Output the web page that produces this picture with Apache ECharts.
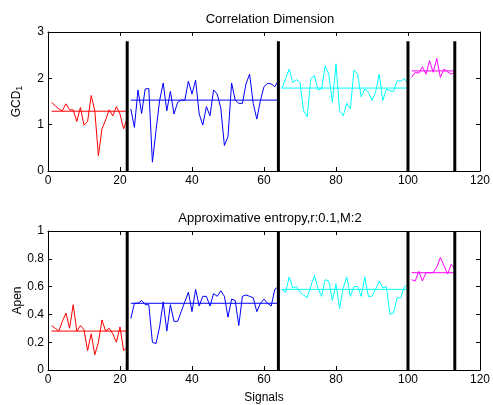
<!DOCTYPE html>
<html>
<head>
<meta charset="utf-8">
<script src="https://cdn.jsdelivr.net/npm/echarts@6/dist/echarts.min.js"></script>
<style>
  html, body { margin: 0; padding: 0; background: #fff; }
  #chart { width: 493px; height: 405px; }
</style>
</head>
<body>
<div id="chart"></div>
<script>
// segment boundaries (signal index) and colours
var segStart = [1, 23, 65, 101];
var segColors = ['#ff0000', '#0000ff', '#00ffff', '#ff00ff'];
var dividers = [22, 64, 100, 113];

// Correlation dimension (GCD_1), one array per segment
var gcdRed = [1.48, 1.41, 1.34, 1.30, 1.45, 1.32, 1.32, 1.07, 1.37, 0.99, 1.07,
    1.63, 1.30, 0.33, 0.91, 1.10, 1.32, 1.19, 1.39, 1.23, 0.91, 1.14];
var gcdBlue = [1.34, 0.94, 1.75, 1.24, 1.77, 1.78, 0.19, 0.87, 1.52, 1.90, 1.30,
    1.72, 1.23, 1.48, 1.53, 1.53, 1.94, 1.66, 1.96, 1.23, 0.99, 1.39, 1.19,
    1.75, 1.66, 1.36, 0.55, 0.74, 1.90, 1.53, 1.46, 1.46, 1.88, 2.09, 1.46,
    1.12, 1.52, 1.82, 1.89, 1.88, 1.82, 1.95];
var gcdCyan = [1.78, 1.99, 2.20, 1.91, 1.97, 1.91, 1.30, 1.17, 1.99, 2.06, 1.75,
    1.77, 2.27, 2.09, 1.48, 2.31, 1.30, 1.19, 1.46, 1.34, 2.18, 2.09, 1.60,
    1.77, 1.70, 1.52, 1.70, 2.09, 1.52, 1.77, 1.73, 1.72, 1.95, 1.94, 1.99, 1.88];
var gcdMagenta = [2.02, 2.13, 2.11, 2.25, 2.09, 2.38, 2.13, 2.43, 2.02, 2.20,
    2.14, 2.09, 2.13];
var gcdMeans = [1.29, 1.53, 1.79, 2.16];

// Approximate entropy (r:0.1, M:2)
var apenRed = [0.32, 0.30, 0.28, 0.35, 0.41, 0.30, 0.47, 0.28, 0.32, 0.29, 0.14,
    0.26, 0.11, 0.20, 0.36, 0.28, 0.30, 0.26, 0.20, 0.31, 0.14, 0.16];
var apenBlue = [0.37, 0.48, 0.48, 0.50, 0.47, 0.47, 0.20, 0.19, 0.31, 0.49, 0.28,
    0.47, 0.35, 0.35, 0.42, 0.49, 0.56, 0.42, 0.58, 0.46, 0.53, 0.53, 0.46,
    0.55, 0.53, 0.57, 0.53, 0.38, 0.51, 0.50, 0.32, 0.53, 0.54, 0.53, 0.52,
    0.42, 0.48, 0.51, 0.48, 0.46, 0.58, 0.60];
var apenCyan = [0.58, 0.56, 0.67, 0.59, 0.60, 0.56, 0.54, 0.52, 0.60, 0.68, 0.59,
    0.53, 0.65, 0.64, 0.50, 0.62, 0.44, 0.59, 0.67, 0.53, 0.60, 0.60, 0.53,
    0.67, 0.53, 0.53, 0.58, 0.64, 0.59, 0.60, 0.40, 0.41, 0.52, 0.52, 0.60, 0.61];
var apenMagenta = [0.65, 0.64, 0.71, 0.64, 0.70, 0.70, 0.70, 0.74, 0.81, 0.75,
    0.69, 0.76, 0.73];
var apenMeans = [0.28, 0.48, 0.58, 0.70];

var font = 'Liberation Sans, Arial, sans-serif';
var chart = echarts.init(document.getElementById('chart'));

function toPoints(start, vals) {
    return vals.map(function (v, i) { return [start + i, v]; });
}

function buildSeries(sets, means, axisIdx, divTop) {
    var out = [];
    sets.forEach(function (vals, k) {
        var pts = toPoints(segStart[k], vals);
        out.push({
            type: 'line', xAxisIndex: axisIdx, yAxisIndex: axisIdx,
            data: pts, symbol: 'none', silent: true,
            lineStyle: { color: segColors[k], width: 1 }
        });
        // segment mean
        out.push({
            type: 'line', xAxisIndex: axisIdx, yAxisIndex: axisIdx,
            data: [[pts[0][0], means[k]], [pts[pts.length - 1][0], means[k]]],
            symbol: 'none', silent: true,
            lineStyle: { color: segColors[k], width: 1 }
        });
    });
    dividers.forEach(function (d) {
        out.push({
            type: 'line', xAxisIndex: axisIdx, yAxisIndex: axisIdx,
            data: [[d, 0], [d, divTop]], symbol: 'none', silent: true,
            lineStyle: { color: '#000', width: 3 }
        });
    });
    return out;
}

function xAx(grid, pos, showLabels, name) {
    return {
        type: 'value', gridIndex: grid, position: pos, min: 0, max: 120, interval: 20,
        name: name || '', nameLocation: 'middle', nameGap: 22, nameMoveOverlap: false,
        nameTextStyle: { fontFamily: font, fontSize: 12, color: '#000' },
        axisLine: { show: true, onZero: false, lineStyle: { color: '#000', width: 1 } },
        axisTick: { show: true, inside: true, length: 4, lineStyle: { color: '#000' } },
        axisLabel: { show: showLabels, fontFamily: font, fontSize: 12, color: '#000', margin: 4 },
        splitLine: { show: false }
    };
}

function yAx(grid, pos, max, step, showLabels, name) {
    return {
        type: 'value', gridIndex: grid, position: pos, min: 0, max: max, interval: step,
        name: name || '', nameLocation: 'middle', nameGap: 24, nameMoveOverlap: false,
        nameTextStyle: { fontFamily: font, fontSize: 12, color: '#000', rich: {
            sub: { fontFamily: font, fontSize: 9, color: '#000', verticalAlign: 'bottom', padding: [6, 0, 0, 0] }
        } },
        axisLine: { show: true, onZero: false, lineStyle: { color: '#000', width: 1 } },
        axisTick: { show: true, inside: true, length: 4, lineStyle: { color: '#000' } },
        axisLabel: { show: showLabels, fontFamily: font, fontSize: 12, color: '#000', margin: 4 },
        splitLine: { show: false }
    };
}

var option = {
    animation: false,
    backgroundColor: '#fff',
    title: [
        { text: 'Correlation Dimension', left: 265, top: 8, textAlign: 'center',
          textStyle: { fontFamily: font, fontSize: 13, fontWeight: 'normal', color: '#000' } },
        { text: 'Approximative entropy,r:0.1,M:2', left: 265, top: 207, textAlign: 'center',
          textStyle: { fontFamily: font, fontSize: 13, fontWeight: 'normal', color: '#000' } }
    ],
    grid: [
        { left: 48, top: 32, width: 434, height: 139 },
        { left: 48, top: 231, width: 434, height: 139 }
    ],
    xAxis: [
        xAx(0, 'bottom', true), xAx(1, 'bottom', true, 'Signals'),
        xAx(0, 'top', false), xAx(1, 'top', false)
    ],
    yAxis: [
        yAx(0, 'left', 3, 1, true, 'GCD{sub|1}'), yAx(1, 'left', 1, 0.2, true, 'Apen'),
        yAx(0, 'right', 3, 1, false), yAx(1, 'right', 1, 0.2, false)
    ],
    series: buildSeries([gcdRed, gcdBlue, gcdCyan, gcdMagenta], gcdMeans, 0, 2.8)
        .concat(buildSeries([apenRed, apenBlue, apenCyan, apenMagenta], apenMeans, 1, 1))
};

chart.setOption(option);
</script>
</body>
</html>
